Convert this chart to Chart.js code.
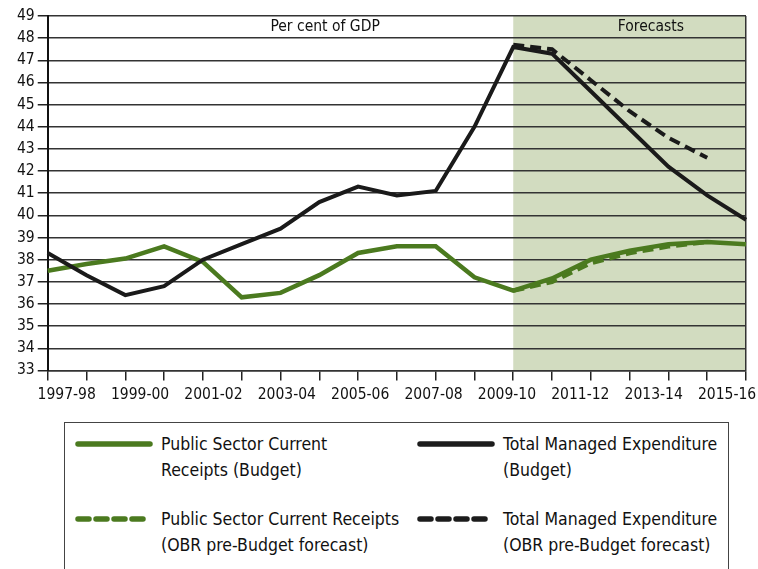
<!DOCTYPE html>
<html>
<head>
<meta charset="utf-8">
<script src="https://cdn.jsdelivr.net/npm/chart.js@4.4.1/dist/chart.umd.min.js"></script>
<style>
    html, body { margin: 0; padding: 0; background: #fff; }
    body { width: 758px; height: 569px; position: relative; overflow: hidden; font-family: "DejaVu Sans Condensed", "DejaVu Sans", sans-serif; }
    #chartWrap { position: absolute; left: 0; top: 0; width: 758px; height: 410px; }
    #legendBox { position: absolute; left: 64px; top: 422px; width: 663px; height: 170px; border: 1.5px solid #444; border-bottom: none; }
    .legend-item { position: absolute; display: flex; align-items: flex-start; }
    .legend-item svg { margin-top: 9px; }
    .legend-text { margin-left: 8px; font-size: 17.5px; line-height: 26px; color: #111; }
</style>
</head>
<body>
<div id="chartWrap"><canvas id="fiscalChart" width="758" height="410"></canvas></div>
<div id="legendBox"></div>
<script>
document.addEventListener('DOMContentLoaded', function () {
    const years = ['1997-98', '1998-99', '1999-00', '2000-01', '2001-02', '2002-03', '2003-04', '2004-05', '2005-06', '2006-07',
        '2007-08', '2008-09', '2009-10', '2010-11', '2011-12', '2012-13', '2013-14', '2014-15', '2015-16'];
    const tickLabels = ['1997-98', '1999-00', '2001-02', '2003-04', '2005-06', '2007-08', '2009-10', '2011-12', '2013-14', '2015-16'];
    const forecastStart = '2009-10';

    const receiptsBudget = [37.5, 37.8, 38.05, 38.6, 37.9, 36.3, 36.5, 37.3, 38.3, 38.6, 38.6, 37.2, 36.6, 37.15, 38.0, 38.4, 38.7, 38.8, 38.7];
    const expenditureBudget = [38.3, 37.3, 36.4, 36.8, 38.0, 38.7, 39.4, 40.6, 41.3, 40.9, 41.1, 44.0, 47.6, 47.3, 45.6, 43.9, 42.2, 40.9, 39.8];
    const receiptsObr = [null, null, null, null, null, null, null, null, null, null, null, null, 36.6, 37.0, 37.85, 38.3, 38.6, 38.8, null];
    const expenditureObr = [null, null, null, null, null, null, null, null, null, null, null, null, 47.7, 47.5, 46.1, 44.7, 43.5, 42.6, null];

    const legendEntries = [
        { text: 'Public Sector Current<br>Receipts (Budget)', color: '#4b7a1f', dashed: false, left: 10, top: 8 },
        { text: 'Total Managed Expenditure<br>(Budget)', color: '#1c1c1c', dashed: false, left: 352, top: 8 },
        { text: 'Public Sector Current Receipts<br>(OBR pre-Budget forecast)', color: '#4b7a1f', dashed: true, left: 10, top: 83 },
        { text: 'Total Managed Expenditure<br>(OBR pre-Budget forecast)', color: '#1c1c1c', dashed: true, left: 352, top: 83 }
    ];

    const GREEN = '#4b7a1f';
    const BLACK = '#1a1a1a';
    const tickFont = { family: '"DejaVu Sans Condensed", "DejaVu Sans", sans-serif', size: 15.5 };

    // legend is plain html under the canvas
    const legendBox = document.getElementById('legendBox');
    legendEntries.forEach(function (entry) {
        const item = document.createElement('div');
        item.className = 'legend-item';
        item.style.left = entry.left + 'px';
        item.style.top = entry.top + 'px';
        const dash = entry.dashed ? 'stroke-dasharray="11 7"' : '';
        item.innerHTML = `
            <svg width="78" height="8"><line x1="3" y1="4" x2="75" y2="4" stroke="${entry.color}" stroke-width="5.5" stroke-linecap="round" ${dash}/></svg>
            <div class="legend-text">${entry.text}</div>`;
        legendBox.appendChild(item);
    });

    const forecastShading = {
        id: 'forecastShading',
        beforeDraw: function (chart) {
            const ctx = chart.ctx;
            const area = chart.chartArea;
            const x0 = chart.scales.x.getPixelForValue(years.indexOf(forecastStart));
            ctx.save();
            ctx.fillStyle = '#d2dcc0';
            ctx.fillRect(x0, area.top, area.right - x0, area.bottom - area.top);
            ctx.restore();
        },
        afterDraw: function (chart) {
            const ctx = chart.ctx;
            const xScale = chart.scales.x;
            const y = chart.chartArea.top + 11;
            ctx.save();
            ctx.fillStyle = '#111';
            ctx.font = '15.5px "DejaVu Sans Condensed", "DejaVu Sans", sans-serif';
            ctx.textAlign = 'center';
            ctx.textBaseline = 'middle';
            ctx.fillText('Per cent of GDP', xScale.getPixelForValue(7.15), y);
            ctx.fillText('Forecasts', xScale.getPixelForValue(15.55), y);
            ctx.restore();
        }
    };

    const lastIndex = years.length - 1;

    new Chart(document.getElementById('fiscalChart').getContext('2d'), {
        type: 'line',
        data: {
            labels: years,
            datasets: [
                {
                    label: 'Total Managed Expenditure (OBR pre-Budget forecast)',
                    data: expenditureObr,
                    borderColor: BLACK,
                    borderWidth: 4,
                    borderDash: [11, 6],
                    pointRadius: 0,
                    tension: 0
                },
                {
                    label: 'Total Managed Expenditure (Budget)',
                    data: expenditureBudget,
                    borderColor: BLACK,
                    borderWidth: 4,
                    pointRadius: 0,
                    tension: 0
                },
                {
                    label: 'Public Sector Current Receipts (Budget)',
                    data: receiptsBudget,
                    borderColor: GREEN,
                    borderWidth: 4.5,
                    pointRadius: 0,
                    tension: 0
                },
                {
                    label: 'Public Sector Current Receipts (OBR pre-Budget forecast)',
                    data: receiptsObr,
                    borderColor: GREEN,
                    borderWidth: 4.5,
                    borderDash: [11, 6],
                    pointRadius: 0,
                    tension: 0
                }
            ]
        },
        options: {
            responsive: false,
            animation: false,
            layout: {
                padding: { top: 16, left: 14, right: 12, bottom: 6 }
            },
            plugins: {
                legend: { display: false },
                tooltip: { enabled: false }
            },
            scales: {
                x: {
                    type: 'category',
                    position: 'bottom',
                    weight: 0,
                    offset: false,
                    afterFit: function (scale) {
                        // leave a gap between tick marks and the year labels below
                        scale.height += 5;
                    },
                    grid: {
                        color: function (ctx) {
                            return ctx.index === lastIndex ? '#333' : 'rgba(0,0,0,0)';
                        },
                        tickColor: '#222',
                        lineWidth: 1.5,
                        tickLength: 10
                    },
                    border: { display: true, color: '#333', width: 1.5 },
                    ticks: { display: false }
                },
                xl: {
                    type: 'linear',
                    position: 'bottom',
                    weight: 1,
                    min: -0.258,
                    max: 9.258,
                    grid: { display: false, drawTicks: false },
                    border: { display: false },
                    ticks: {
                        stepSize: 1,
                        includeBounds: false,
                        autoSkip: false,
                        maxRotation: 0,
                        padding: 0,
                        color: '#111',
                        font: tickFont,
                        callback: function (value) {
                            return tickLabels[value] || '';
                        }
                    }
                },
                y: {
                    min: 33,
                    max: 49,
                    grid: {
                        color: '#333',
                        tickColor: '#222',
                        lineWidth: 1.5,
                        tickLength: 10
                    },
                    border: { display: true, color: '#111', width: 2 },
                    ticks: {
                        stepSize: 1,
                        padding: 3,
                        color: '#111',
                        font: tickFont
                    }
                }
            }
        },
        plugins: [forecastShading]
    });
});
</script>
</body>
</html>
